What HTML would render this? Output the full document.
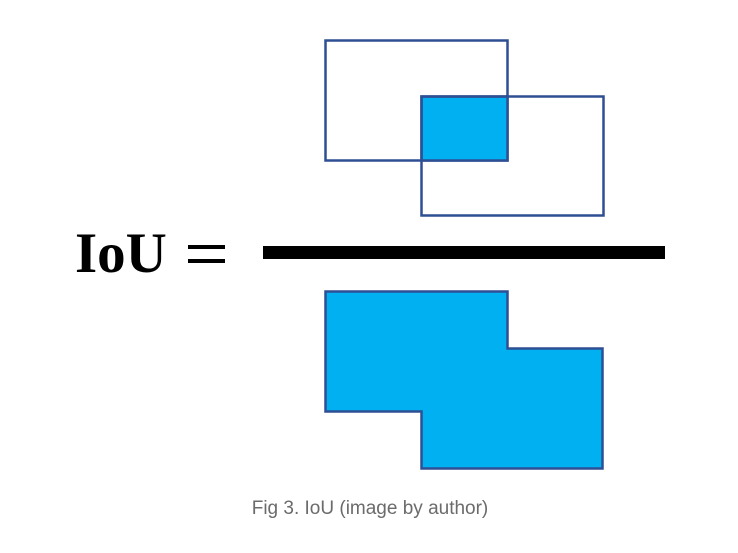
<!DOCTYPE html>
<html><head><meta charset="utf-8"><style>
html,body{margin:0;padding:0;background:#fff;width:738px;height:553px;overflow:hidden}
svg{display:block}
</style></head><body>
<svg width="738" height="553" viewBox="0 0 738 553">
  <rect x="325.5" y="40.5" width="182" height="120" fill="none" stroke="#2e4f94" stroke-width="2.5"/>
  <rect x="421.5" y="96.5" width="86" height="64" fill="#00b0f0" stroke="#2e4f94" stroke-width="2.5"/>
  <rect x="421.5" y="96.5" width="182" height="119" fill="none" stroke="#2e4f94" stroke-width="2.5"/>
  <text x="75" y="272" font-family="Liberation Serif, serif" font-weight="bold" font-size="57" fill="#000">IoU</text>
  <rect x="188" y="245" width="37" height="4" fill="#000"/>
  <rect x="188" y="259" width="37" height="4" fill="#000"/>
  <rect x="263" y="246" width="402" height="13" fill="#000"/>
  <polygon points="325.5,291.5 507.5,291.5 507.5,348.5 602.5,348.5 602.5,468.5 421.5,468.5 421.5,411.5 325.5,411.5" fill="#00b0f0" stroke="#2e4f94" stroke-width="2.5"/>
  <text x="370" y="514" text-anchor="middle" font-family="Liberation Sans, sans-serif" font-size="19" fill="#6b6b6b">Fig 3. IoU (image by author)</text>
</svg>
</body></html>
